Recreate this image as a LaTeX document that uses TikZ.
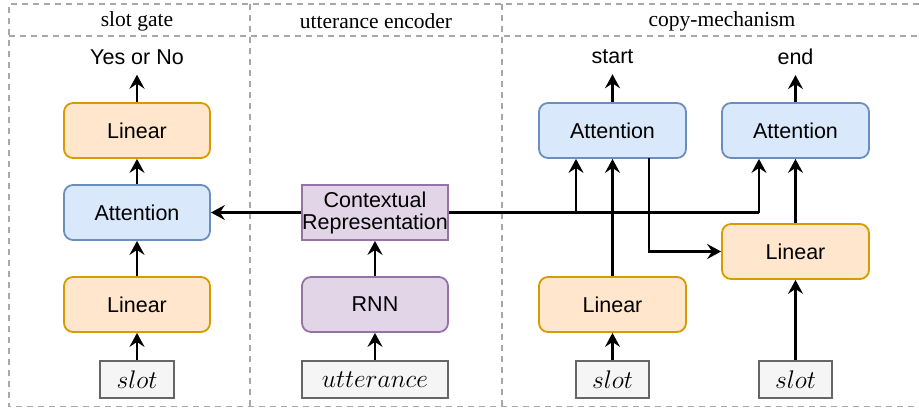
\RequirePackage{fix-cm}
\documentclass[tikz,border=0pt]{standalone}
\usepackage{fontspec}
\setmainfont{Liberation Sans}
\newfontfamily\titlefont{Liberation Serif}
\usetikzlibrary{arrows.meta}
\definecolor{linfill}{HTML}{FFE6CC}
\definecolor{lindraw}{HTML}{D79B00}
\definecolor{attfill}{HTML}{DAE8FC}
\definecolor{attdraw}{HTML}{6C8EBF}
\definecolor{purfill}{HTML}{E1D5E7}
\definecolor{purdraw}{HTML}{9673A6}
\definecolor{inpfill}{HTML}{F5F5F5}
\definecolor{inpdraw}{HTML}{666666}
\definecolor{framec}{HTML}{A8A8A8}
\tikzset{
  base/.style={line width=1.8pt, minimum width=146pt, minimum height=55pt, inner sep=0pt,
    font=\fontsize{21.5}{24}\selectfont, align=center},
  linbox/.style={base, rounded corners=9pt, fill=linfill, draw=lindraw},
  attbox/.style={base, rounded corners=9pt, fill=attfill, draw=attdraw},
  rnnbox/.style={base, rounded corners=9pt, fill=purfill, draw=purdraw},
  ctxbox/.style={base, fill=purfill, draw=purdraw},
  inbox/.style={line width=1.8pt, minimum height=37pt, inner sep=0pt, fill=inpfill, draw=inpdraw,
    font=\fontsize{25.5}{30}\selectfont},
  lbl/.style={font=\fontsize{21.5}{24}\selectfont, inner sep=0pt},
  ttl/.style={font=\titlefont\fontsize{21.5}{24}\selectfont, inner sep=0pt},
  frame/.style={draw=framec, line width=1.6pt, dash pattern=on 6pt off 5pt},
  arr/.style={line width=2.1pt, -{Stealth[length=14pt, width=15pt, inset=5pt]}},
  ln/.style={line width=2.1pt}
}
\begin{document}
\begin{tikzpicture}[x=1pt, y=-1pt]
\useasboundingbox (0,0) rectangle (919,410);
% frames
\draw[frame] (930,4) -- (9,4) -- (9,406.5) -- (930,406.5);
\draw[frame] (9,36) -- (930,36);
\draw[frame] (250,4) -- (250,406.5);
\draw[frame] (502,4) -- (502,406.5);
\node[ttl] (t1) at (137,21) {slot gate};
\node[ttl] (t2) at (376,21) {utterance encoder};
\node[ttl] (t3) at (722,21) {copy-mechanism};
% slot gate
\node[lbl] (yn) at (137,57) {Yes or No};
\node[linbox] (lin1) at (137,130.5) {Linear};
\node[attbox] (att0) at (137,212.5) {Attention};
\node[linbox] (lin2) at (137,304.5) {Linear};
\node[inbox, minimum width=74pt] (s0) at (137,379.5) {$slot$};
% utterance encoder
\node[ctxbox] (ctx) at (375,212.5) {Contextual\\[-2pt]Representation};
\node[rnnbox] (rnn) at (375,304.5) {RNN};
\node[inbox, minimum width=146pt] (utt) at (375,379.5) {$utterance$};
% copy mechanism
\node[lbl] (st) at (612.5,57) {start};
\node[lbl] (en) at (795.5,57) {end};
\node[attbox, minimum width=147pt] (att1) at (612.5,130.5) {Attention};
\node[attbox, minimum width=147pt] (att2) at (795.5,130.5) {Attention};
\node[linbox, minimum width=147pt] (lin3) at (612.5,304.5) {Linear};
\node[linbox, minimum width=147pt] (lin4) at (795.5,251.5) {Linear};
\node[inbox, minimum width=73pt] (s1) at (612.5,379.5) {$slot$};
\node[inbox, minimum width=73pt] (s2) at (795.5,379.5) {$slot$};
% connectors slot gate
\draw[arr] (lin1.north) -- ([yshift=-10pt]yn.south);
\draw[arr] (att0.north) -- (lin1.south);
\draw[arr] (lin2.north) -- (att0.south);
\draw[arr] (s0.north) -- (lin2.south);
% utterance
\draw[arr] (utt.north) -- (rnn.south);
\draw[arr] (rnn.north) -- (ctx.south);
\draw[arr] (ctx.west) -- (att0.east);
% copy
\coordinate (j1) at (576,212.5);
\coordinate (j2) at (759,212.5);
\draw[ln] (ctx.east) -- (j2);
\draw[arr] (j1) -- (j1 |- att1.south);
\draw[arr] (j2) -- (j2 |- att2.south);
\draw[arr] (lin3.north) -- (att1.south);
\coordinate (a1o) at (649,158);
\draw[arr] (a1o) |- (lin4.west);
\draw[arr] (lin4.north) -- (att2.south);
\draw[arr] (s1.north) -- (lin3.south);
\draw[arr] (s2.north) -- (lin4.south);
\draw[arr] (att1.north) -- ([yshift=-10pt]st.south);
\draw[arr] (att2.north) -- ([yshift=-10pt]en.south);
\end{tikzpicture}
\end{document}
